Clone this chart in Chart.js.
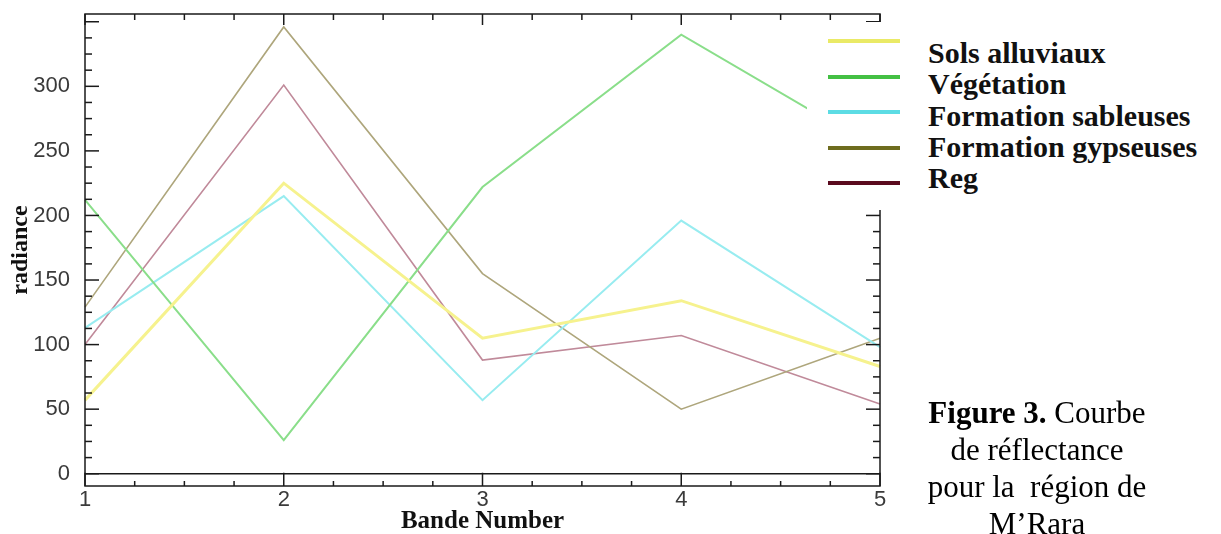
<!DOCTYPE html>
<html>
<head>
  <meta charset="UTF-8">
  <title>Courbe de réflectance - M'Rara</title>
  <style>
    body { margin: 0; background: #fff; }
    #wrap { position: relative; width: 1221px; height: 534px; overflow: hidden; }
    #chart { position: absolute; left: 0; top: 0; }
    #legend { position: absolute; left: 807px; top: 22px; width: 414px; height: 188px; background: #fff; }
    #legend .mark { position: absolute; left: 21px; width: 72px; height: 4px; }
    #legend .names { position: absolute; left: 121px; top: 15px;
      font: bold 30px "Liberation Serif", "Times New Roman", serif; line-height: 31.25px; color: #111; white-space: nowrap; }
    #caption { position: absolute; left: 880px; width: 314px; top: 394px; text-align: center;
      font: 31px "Liberation Serif", "Times New Roman", serif; line-height: 37px; color: #000; white-space: pre; }
  </style>
</head>
<body>
  <div id="wrap">
    <canvas id="chart" width="1221" height="534"></canvas>
    <div id="legend"><div class="names" id="names"></div></div>
    <div id="caption"><b>Figure 3.</b> Courbe
de réflectance
pour la  région de
M’Rara</div>
  </div>

  <script src="https://cdn.jsdelivr.net/npm/chart.js"></script>
  <script>
    // values
    const bands = ['1', '2', '3', '4', '5'];
    const solsAlluviaux      = [57, 225, 105, 134, 83];
    const vegetation         = [212, 26, 222, 340, 250];
    const formationSableuses = [113, 215, 57, 196, 98];
    const formationGypseuses = [129, 346, 155, 50, 105];
    const reg                = [100, 301, 88, 107, 54];
    const yTicks = [0, 50, 100, 150, 200, 250, 300];

    const names  = ['Sols alluviaux', 'Végétation', 'Formation sableuses', 'Formation gypseuses', 'Reg'];
    const series = [solsAlluviaux, vegetation, formationSableuses, formationGypseuses, reg];
    // plot colours are washed out, legend swatches are stronger
    const lineColors = ['#f6f28e', '#8ade8a', '#98ecf0', '#aea67c', '#c08a9a'];
    const markColors = ['#eaea66', '#44c044', '#5cdce4', '#6e6c1e', '#5a0a1e'];
    const lineWidths = [3, 2, 2, 1.6, 1.6];

    // legend (overlaps the plot frame like in the figure)
    const legend = document.getElementById('legend');
    names.forEach((n, i) => {
      const m = document.createElement('div');
      m.className = 'mark';
      m.style.top = (17 + i * 35.5) + 'px';
      m.style.background = markColors[i];
      legend.appendChild(m);
    });
    document.getElementById('names').innerHTML = names.join('<br>');

    // frame, zero line and inward tick marks
    const frame = {
      id: 'frame',
      afterDatasetsDraw(chart) {
        const { ctx, chartArea: a, scales: { x, y } } = chart;
        const seg = (x1, y1, x2, y2) => { ctx.beginPath(); ctx.moveTo(x1, y1); ctx.lineTo(x2, y2); ctx.stroke(); };
        ctx.save();
        ctx.strokeStyle = '#1a1a1a';
        ctx.lineWidth = 1.5;
        ctx.strokeRect(a.left, a.top, a.right - a.left, a.bottom - a.top);
        const y0 = y.getPixelForValue(0);
        seg(a.left, y0, a.right, y0);
        for (let v = 0; v <= y.max; v += 12.5) {
          const p = y.getPixelForValue(v);
          const len = v % 50 === 0 ? 14 : 7;
          seg(a.left, p, a.left + len, p);
          seg(a.right, p, a.right - len, p);
        }
        for (let v = 0; v <= bands.length - 1; v += 0.25) {
          const p = x.getPixelForValue(v);
          const major = v % 1 === 0;
          seg(p, a.bottom, p, major ? y0 - 1 : a.bottom - 5);
          seg(p, a.top, p, a.top + (major ? 11 : 6));
        }
        ctx.restore();
      }
    };

    const tickFont = { family: 'Liberation Sans', size: 22 };

    new Chart(document.getElementById('chart'), {
      type: 'line',
      data: {
        labels: bands,
        datasets: series.map((d, i) => ({
          label: names[i],
          data: d,
          borderColor: lineColors[i],
          borderWidth: lineWidths[i],
          pointRadius: 0,
          tension: 0
        }))
      },
      options: {
        responsive: false,
        animation: false,
        layout: { padding: { left: 0, top: 14, right: 341, bottom: 0 } },
        plugins: { legend: { display: false }, tooltip: { enabled: false } },
        scales: {
          x: {
            offset: false,
            grid: { display: false },
            border: { display: false },
            ticks: { color: '#3a3a3a', padding: -7, font: tickFont },
            title: { display: true, text: 'Bande Number', color: '#111', padding: 0,
              font: { family: 'Liberation Serif', size: 25, weight: 'bold', lineHeight: 1 } },
            afterFit: s => { s.height = 48; s.paddingLeft = 0; s.paddingRight = 0; }
          },
          y: {
            min: -9.5,
            max: 356,
            grid: { display: false },
            border: { display: false },
            afterBuildTicks: s => { s.ticks = yTicks.map(v => ({ value: v })); },
            ticks: { color: '#3a3a3a', padding: 7, font: tickFont },
            title: { display: true, text: 'radiance', color: '#111', padding: { top: 6, bottom: 0 },
              font: { family: 'Liberation Serif', size: 24, weight: 'bold' } },
            afterFit: s => { s.width = 85; s.paddingTop = 0; s.paddingBottom = 0; }
          }
        }
      },
      plugins: [frame]
    });
  </script>
</body>
</html>
